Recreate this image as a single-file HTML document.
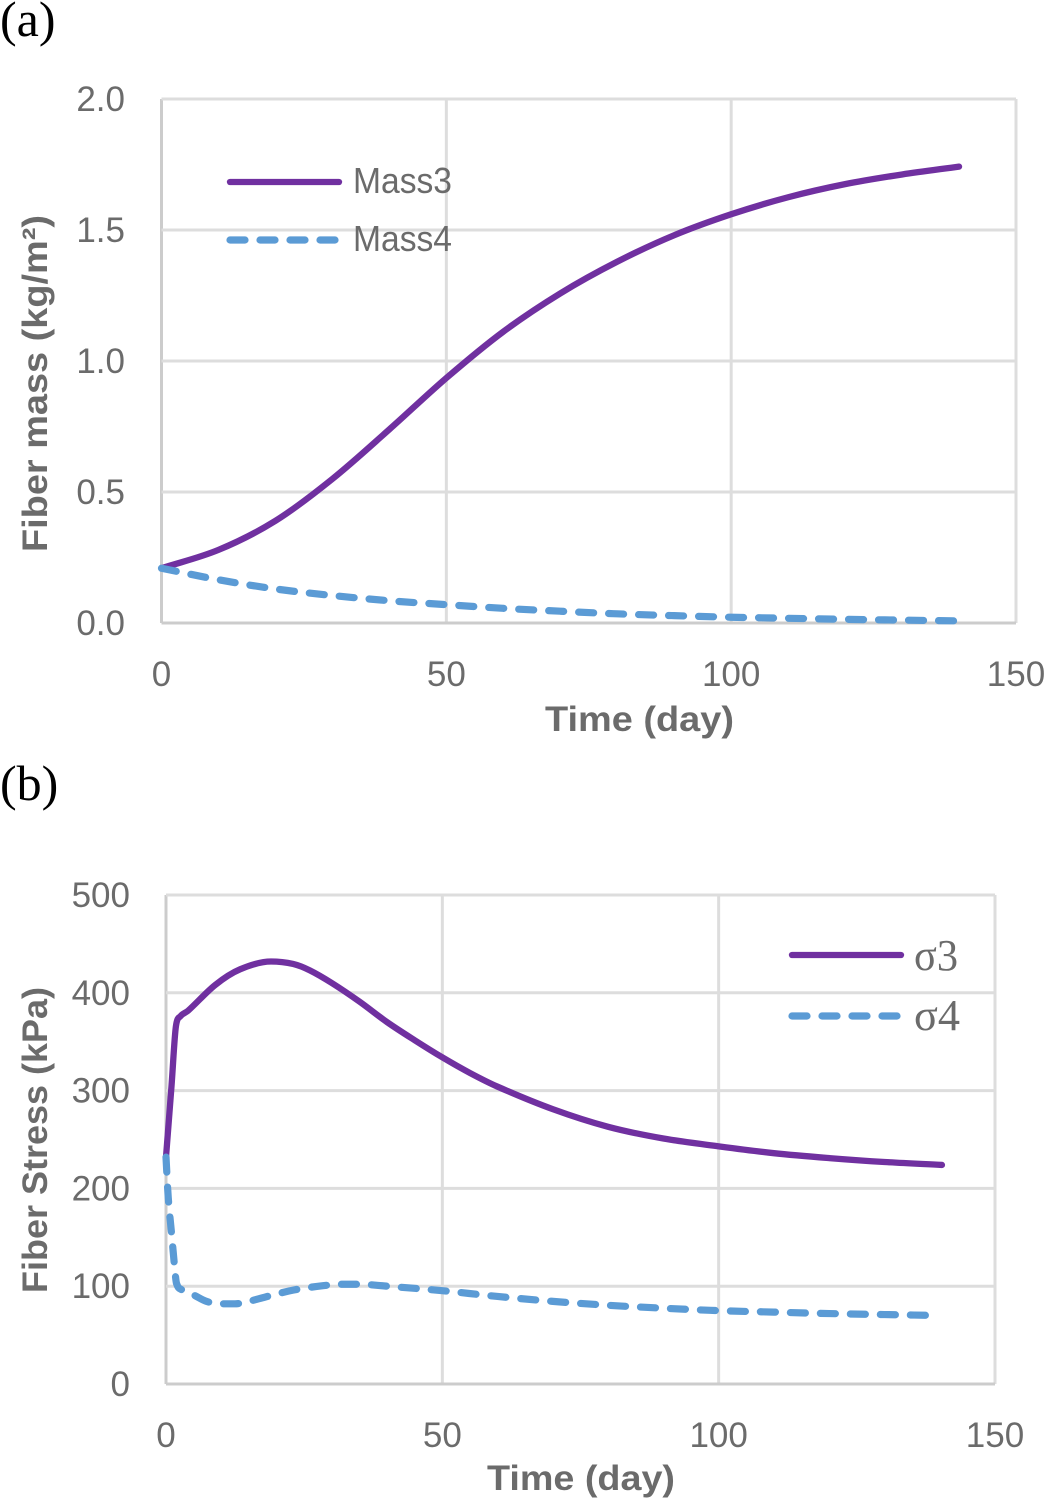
<!DOCTYPE html>
<html lang="en">
<head>
<meta charset="utf-8">
<title>Fiber mass and fiber stress over time</title>
<style>
  html, body { margin: 0; padding: 0; background: #fff; }
  svg { display: block; }
  .tick { font-family: "Liberation Sans", sans-serif; font-size: 35px; fill: #6b6b6b; }
  .title { font-family: "Liberation Sans", sans-serif; font-size: 35px; font-weight: bold; fill: #6b6b6b; }
  .legend-sans { font-family: "Liberation Sans", sans-serif; font-size: 36px; fill: #6b6b6b; }
  .legend-serif { font-family: "Liberation Serif", serif; font-size: 44px; fill: #6b6b6b; }
  .panel { font-family: "Liberation Serif", serif; font-size: 50px; fill: #000; }
</style>
</head>
<body>
<svg id="figure" width="1045" height="1500" viewBox="0 0 1045 1500" xmlns="http://www.w3.org/2000/svg">
  <rect width="1045" height="1500" fill="#ffffff"/>
  <g id="grid-layer"></g>
  <g id="mark-layer"></g>
  <g id="tick-layer"></g>

  <text class="panel" x="0" y="36">(a)</text>
  <text class="panel" x="0" y="800">(b)</text>

  <text class="title" x="545" y="731" textLength="189" lengthAdjust="spacingAndGlyphs">Time (day)</text>
  <text class="title" transform="translate(47,552) rotate(-90)" textLength="337" lengthAdjust="spacingAndGlyphs">Fiber mass (kg/m²)</text>
  <text class="title" x="487" y="1490" textLength="188" lengthAdjust="spacingAndGlyphs">Time (day)</text>
  <text class="title" transform="translate(47,1293) rotate(-90)" textLength="306" lengthAdjust="spacingAndGlyphs">Fiber Stress (kPa)</text>

  <g>
    <line x1="230" y1="182" x2="339" y2="182" stroke="#7030a0" stroke-width="6.3" stroke-linecap="round"/>
    <text class="legend-sans" x="353" y="193" textLength="99" lengthAdjust="spacingAndGlyphs">Mass3</text>
    <line x1="230" y1="240" x2="336" y2="240" stroke="#5b9bd5" stroke-width="7.2" stroke-linecap="round" stroke-dasharray="15 15"/>
    <text class="legend-sans" x="353" y="251" textLength="99" lengthAdjust="spacingAndGlyphs">Mass4</text>
  </g>
  <g>
    <line x1="792" y1="955" x2="901" y2="955" stroke="#7030a0" stroke-width="6.3" stroke-linecap="round"/>
    <text class="legend-serif" x="914" y="970" textLength="44" lengthAdjust="spacingAndGlyphs">σ3</text>
    <line x1="792" y1="1016" x2="898" y2="1016" stroke="#5b9bd5" stroke-width="7.2" stroke-linecap="round" stroke-dasharray="15 15"/>
    <text class="legend-serif" x="914" y="1030" textLength="46" lengthAdjust="spacingAndGlyphs">σ4</text>
  </g>
</svg>

<script>
// Panel (a) data
var massXTicks = [0, 50, 100, 150];
var massYTicks = [0, 0.5, 1, 1.5, 2];
var massYTickLabels = ['0.0', '0.5', '1.0', '1.5', '2.0'];
var mass3Days = [0, 10, 20, 30, 40, 50, 60, 70, 80, 90, 100, 110, 120, 130, 140];
var mass3Values = [0.209, 0.279, 0.39, 0.55, 0.739, 0.935, 1.112, 1.258, 1.379, 1.48, 1.56, 1.625, 1.675, 1.712, 1.742];
var mass4Days = [0, 10, 20, 30, 40, 50, 60, 70, 80, 90, 100, 110, 120, 130, 140];
var mass4Values = [0.209, 0.165, 0.13, 0.105, 0.085, 0.07, 0.056, 0.045, 0.035, 0.028, 0.022, 0.018, 0.014, 0.011, 0.008];

// Panel (b) data
var stressXTicks = [0, 50, 100, 150];
var stressYTicks = [0, 100, 200, 300, 400, 500];
var sigma3Days = [0, 1, 1.8, 2.6, 4, 8.9, 13.4, 19, 23, 26, 30, 35, 40, 45, 50, 55, 60, 70, 80, 90, 100, 110, 120, 130, 140.4];
var sigma3Values = [232, 305, 366, 376, 381.7, 408, 424, 432, 429.5, 423, 410, 391, 370, 351.5, 334, 318, 304, 281, 263, 251, 243, 236, 231, 227, 224];
var sigma4Days = [0, 0.4, 1, 1.5, 1.9, 3, 5, 7.3, 10, 12.5, 15, 18, 23, 28.4, 32, 35, 40, 50, 60, 70, 80, 90, 100, 110, 120, 130, 140];
var sigma4Values = [232, 191, 154, 123, 103, 96, 91, 84.5, 82, 82, 84.5, 89, 96, 100.5, 102, 102, 100, 95.4, 89.5, 84.5, 80.5, 77.5, 75, 73.5, 72, 71, 70];

var svgNS = 'http://www.w3.org/2000/svg';
var gridLayer = document.getElementById('grid-layer');
var markLayer = document.getElementById('mark-layer');
var tickLayer = document.getElementById('tick-layer');

function scale(d0, d1, r0, r1) {
  return function (v) { return r0 + (v - d0) * (r1 - r0) / (d1 - d0); };
}
var massX = scale(0, 150, 161.5, 1016);
var massY = scale(0, 2, 623, 99);
var stressX = scale(0, 150, 166, 995);
var stressY = scale(0, 500, 1384, 895);

// Monotone cubic path through the data points (no overshoot or wobble)
function smoothPath(days, values, xf, yf) {
  var p = days.map(function (d, i) { return [xf(d), yf(values[i])]; });
  var n = p.length, sec = [], m = [], i;
  for (i = 0; i < n - 1; i++) sec.push((p[i + 1][1] - p[i][1]) / (p[i + 1][0] - p[i][0]));
  m[0] = sec[0];
  m[n - 1] = sec[n - 2];
  for (i = 1; i < n - 1; i++) {
    if (sec[i - 1] * sec[i] <= 0) { m[i] = 0; continue; }
    var c = (p[i + 1][1] - p[i - 1][1]) / (p[i + 1][0] - p[i - 1][0]);
    var lim = 3 * Math.min(Math.abs(sec[i - 1]), Math.abs(sec[i]));
    m[i] = Math.sign(c) * Math.min(Math.abs(c), lim);
  }
  var s = 'M' + p[0][0].toFixed(2) + ' ' + p[0][1].toFixed(2);
  for (i = 0; i < n - 1; i++) {
    var h = (p[i + 1][0] - p[i][0]) / 3;
    s += 'C' + (p[i][0] + h).toFixed(2) + ' ' + (p[i][1] + m[i] * h).toFixed(2) + ' ' +
      (p[i + 1][0] - h).toFixed(2) + ' ' + (p[i + 1][1] - m[i + 1] * h).toFixed(2) + ' ' +
      p[i + 1][0].toFixed(2) + ' ' + p[i + 1][1].toFixed(2);
  }
  return s;
}

function gridLine(x1, y1, x2, y2, color) {
  var el = document.createElementNS(svgNS, 'line');
  
  
  el.setAttribute('x1', x1);
  el.setAttribute('y1', y1);
  el.setAttribute('x2', x2);
  el.setAttribute('y2', y2);
  el.setAttribute('stroke', color);
  el.setAttribute('stroke-width', '3');
  gridLayer.appendChild(el);
}

function tickText(label, x, y, anchor) {
  var el = document.createElementNS(svgNS, 'text');
  
  
  el.setAttribute('class', 'tick');
  el.setAttribute('x', x);
  el.setAttribute('y', y);
  el.setAttribute('text-anchor', anchor);
  el.textContent = label;
  tickLayer.appendChild(el);
}

function seriesLine(name, days, values, xf, yf, color, width, dash) {
  var el = document.createElementNS(svgNS, 'path');
  
  
  el.setAttribute('d', smoothPath(days, values, xf, yf));
  el.setAttribute('fill', 'none');
  el.setAttribute('stroke', color);
  el.setAttribute('stroke-width', width);
  el.setAttribute('stroke-linecap', 'round');
  el.setAttribute('stroke-linejoin', 'round');
  if (dash) el.setAttribute('stroke-dasharray', dash);
  markLayer.appendChild(el);
}

var gridColor = '#dddddd';
var axisColor = '#cccccc';

// Panel (a) grid and ticks
massXTicks.forEach(function (t, i) {
  gridLine(massX(t), massY(2), massX(t), massY(0), i === 0 ? axisColor : gridColor);
  tickText(String(t), massX(t), 686, 'middle');
});
massYTicks.forEach(function (t, i) {
  gridLine(massX(0), massY(t), massX(150), massY(t), i === 0 ? axisColor : gridColor);
  tickText(massYTickLabels[i], 125, massY(t) + 12, 'end');
});

// Panel (b) grid and ticks
stressXTicks.forEach(function (t, i) {
  gridLine(stressX(t), stressY(500), stressX(t), stressY(0), i === 0 ? axisColor : gridColor);
  tickText(String(t), stressX(t), 1447, 'middle');
});
stressYTicks.forEach(function (t, i) {
  gridLine(stressX(0), stressY(t), stressX(150), stressY(t), i === 0 ? axisColor : gridColor);
  tickText(String(t), 130, stressY(t) + 12, 'end');
});

// Series
seriesLine('series-mass3', mass3Days, mass3Values, massX, massY, '#7030a0', '6.3', null);
seriesLine('series-mass4', mass4Days, mass4Values, massX, massY, '#5b9bd5', '7.2', '15 15');
seriesLine('series-sigma3', sigma3Days, sigma3Values, stressX, stressY, '#7030a0', '6.3', null);
seriesLine('series-sigma4', sigma4Days, sigma4Values, stressX, stressY, '#5b9bd5', '7.2', '15 15');
</script>
</body>
</html>
